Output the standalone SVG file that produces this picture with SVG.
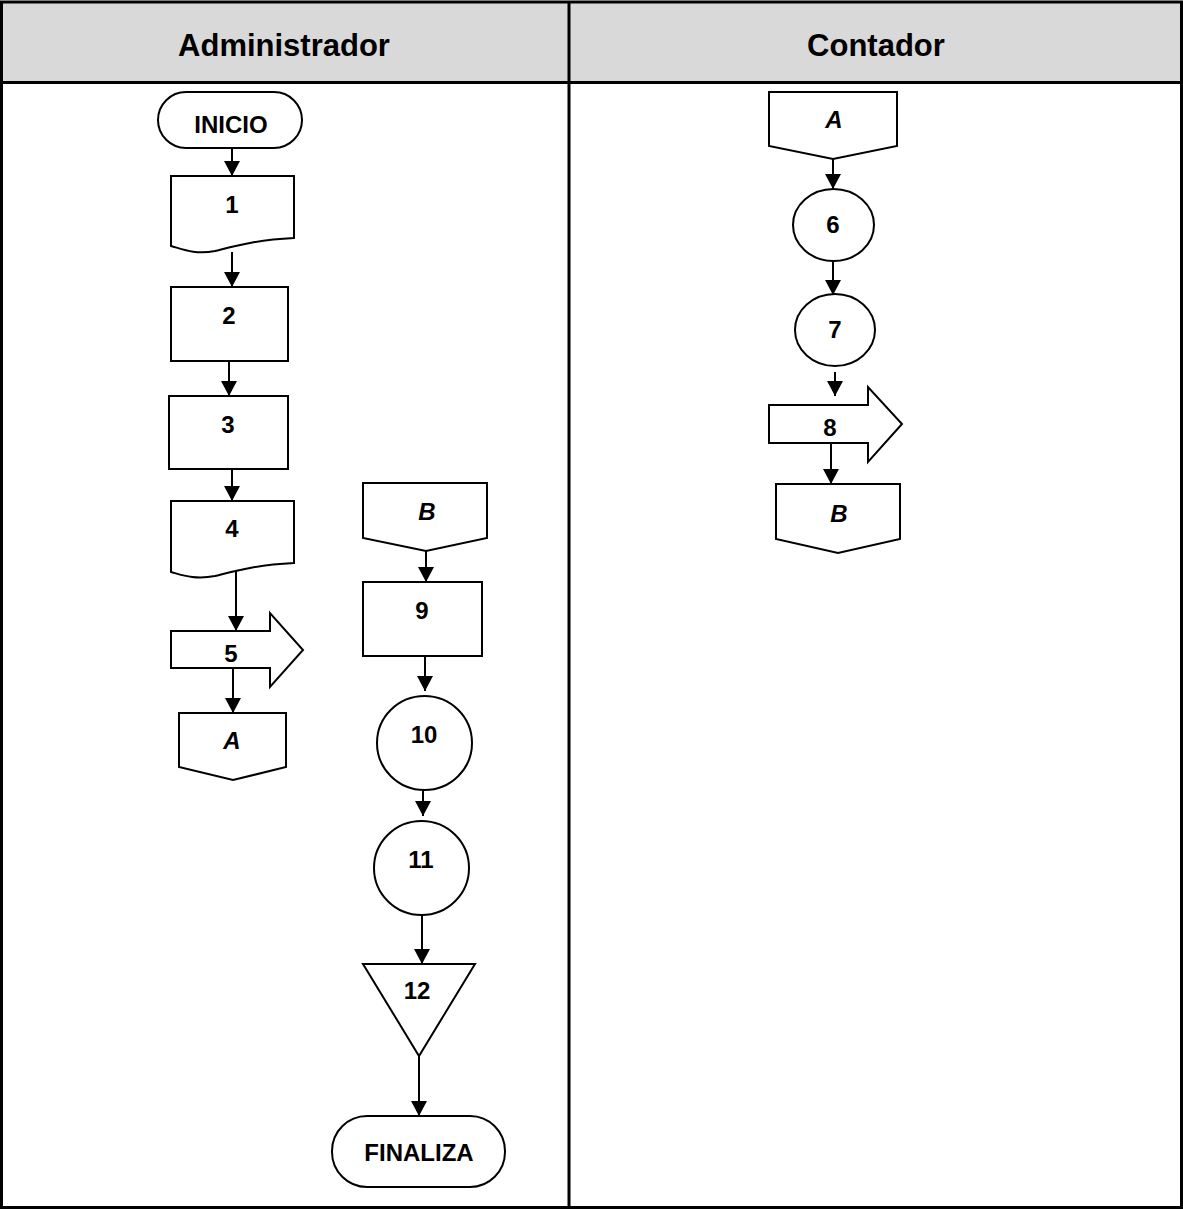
<svg xmlns="http://www.w3.org/2000/svg" width="1183" height="1209" viewBox="0 0 1183 1209">
  <defs>
    <style>
      .shape { fill: #ffffff; stroke: #000000; stroke-width: 2; }
      .link { fill: none; stroke: #000000; stroke-width: 2; }
      .grid { fill: none; stroke: #000000; stroke-width: 3; }
      .lbl { font-family: "Liberation Sans", Arial, sans-serif; font-weight: bold; font-size: 24px; text-anchor: middle; fill: #000000; }
      .conn { font-style: italic; }
      .head { font-family: "Liberation Sans", Arial, sans-serif; font-weight: bold; font-size: 31px; text-anchor: middle; fill: #000000; }
    </style>
    <marker id="arrow" viewBox="0 0 15 16" refX="15" refY="8" markerWidth="15" markerHeight="16" markerUnits="userSpaceOnUse" orient="auto">
      <path d="M0,0 L15,8 L0,16 Z" fill="#000000"/>
    </marker>
  </defs>

  <!-- swimlane table -->
  <g id="table">
    <rect x="0" y="0" width="1183" height="1209" fill="#ffffff"/>
    <rect x="1.5" y="2" width="1180" height="80.5" fill="#d9d9d9"/>
    <rect class="grid" x="1.5" y="2" width="1180" height="1205.5"/>
    <line class="grid" x1="1.5" y1="82.5" x2="1181.5" y2="82.5"/>
    <line class="grid" x1="569" y1="2" x2="569" y2="1207.5"/>
    <text class="head" x="284" y="56">Administrador</text>
    <text class="head" x="876" y="56">Contador</text>
  </g>

  <!-- connectors -->
  <g id="connectors">
    <line class="link" x1="232" y1="148" x2="232" y2="176" marker-end="url(#arrow)"/>
    <line class="link" x1="232" y1="252" x2="232" y2="287" marker-end="url(#arrow)"/>
    <line class="link" x1="229" y1="361" x2="229" y2="396" marker-end="url(#arrow)"/>
    <line class="link" x1="232" y1="469" x2="232" y2="501" marker-end="url(#arrow)"/>
    <line class="link" x1="236" y1="568" x2="236" y2="631" marker-end="url(#arrow)"/>
    <line class="link" x1="233" y1="666" x2="233" y2="713" marker-end="url(#arrow)"/>
    <line class="link" x1="426" y1="551" x2="426" y2="582" marker-end="url(#arrow)"/>
    <line class="link" x1="425" y1="648" x2="425" y2="691" marker-end="url(#arrow)"/>
    <line class="link" x1="423" y1="785" x2="423" y2="816" marker-end="url(#arrow)"/>
    <line class="link" x1="422" y1="915" x2="422" y2="964" marker-end="url(#arrow)"/>
    <line class="link" x1="419" y1="1056" x2="419" y2="1116" marker-end="url(#arrow)"/>
    <line class="link" x1="833" y1="159" x2="833" y2="189" marker-end="url(#arrow)"/>
    <line class="link" x1="833" y1="261" x2="833" y2="295" marker-end="url(#arrow)"/>
    <line class="link" x1="835" y1="372" x2="835" y2="396" marker-end="url(#arrow)"/>
    <line class="link" x1="831" y1="443" x2="831" y2="484" marker-end="url(#arrow)"/>
  </g>

  <!-- Administrador lane -->
  <g id="inicio">
    <rect class="shape" x="158" y="92" width="144" height="56" rx="28" ry="28"/>
    <text class="lbl" x="231" y="133">INICIO</text>
  </g>
  <g id="n1">
    <path class="shape" d="M171,176 L294,176 L294,238 C255,240 235,246 215,251 C195,255 182,249 171,246 Z"/>
    <text class="lbl" x="232" y="213">1</text>
  </g>
  <g id="n2">
    <rect class="shape" x="171" y="287" width="117" height="74"/>
    <text class="lbl" x="229" y="324">2</text>
  </g>
  <g id="n3">
    <rect class="shape" x="169" y="396" width="119" height="73"/>
    <text class="lbl" x="228" y="433">3</text>
  </g>
  <g id="n4">
    <path class="shape" d="M171,501 L294,501 L294,563 C255,565 235,571 215,576 C195,580 182,575 171,572 Z"/>
    <text class="lbl" x="232" y="537">4</text>
  </g>
  <g id="n5">
    <path class="shape" d="M171,631 L270,631 L270,613 L303,650 L270,687 L270,668 L171,668 Z"/>
    <text class="lbl" x="231" y="662">5</text>
  </g>
  <g id="connA1">
    <path class="shape" d="M179,713 L286,713 L286,767 L233,780 L179,767 Z"/>
    <text class="lbl conn" x="232" y="749">A</text>
  </g>
  <g id="connB2">
    <path class="shape" d="M363,483 L487,483 L487,538 L426,551 L363,538 Z"/>
    <text class="lbl conn" x="427" y="520">B</text>
  </g>
  <g id="n9">
    <rect class="shape" x="363" y="582" width="119" height="74"/>
    <text class="lbl" x="422" y="619">9</text>
  </g>
  <g id="n10">
    <ellipse class="shape" cx="424.5" cy="743" rx="47.5" ry="47"/>
    <text class="lbl" x="424" y="743">10</text>
  </g>
  <g id="n11">
    <ellipse class="shape" cx="421.5" cy="868" rx="47.5" ry="47"/>
    <text class="lbl" x="421" y="868">11</text>
  </g>
  <g id="n12">
    <path class="shape" d="M363,964 L475,964 L419,1056 Z"/>
    <text class="lbl" x="417" y="999">12</text>
  </g>
  <g id="finaliza">
    <rect class="shape" x="332" y="1116" width="173" height="71" rx="35" ry="35"/>
    <text class="lbl" x="419" y="1161">FINALIZA</text>
  </g>

  <!-- Contador lane -->
  <g id="connA2">
    <path class="shape" d="M769,92 L897,92 L897,146 L833,159 L769,146 Z"/>
    <text class="lbl conn" x="834" y="128">A</text>
  </g>
  <g id="n6">
    <ellipse class="shape" cx="833.5" cy="225" rx="40.5" ry="36"/>
    <text class="lbl" x="833" y="233">6</text>
  </g>
  <g id="n7">
    <ellipse class="shape" cx="835" cy="330" rx="40" ry="36"/>
    <text class="lbl" x="835" y="338">7</text>
  </g>
  <g id="n8">
    <path class="shape" d="M769,405 L868,405 L868,387 L902,424 L868,462 L868,443 L769,443 Z"/>
    <text class="lbl" x="830" y="436">8</text>
  </g>
  <g id="connB1">
    <path class="shape" d="M776,484 L900,484 L900,539 L838,553 L776,539 Z"/>
    <text class="lbl conn" x="839" y="522">B</text>
  </g>
</svg>
